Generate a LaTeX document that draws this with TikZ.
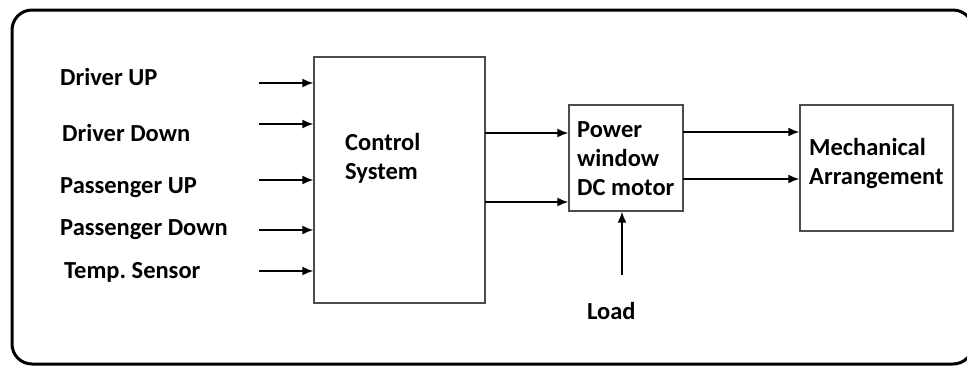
\documentclass[tikz,border=0pt]{standalone}
\usepackage{fontspec}
\setmainfont{Carlito}
\usetikzlibrary{arrows.meta}
\frenchspacing
\begin{document}
\begin{tikzpicture}[x=1pt,y=-1pt,
  blk/.style={draw=black!70,line width=1.3pt,rectangle,inner sep=0pt},
  lbl/.style={font=\bfseries\fontsize{24.5}{29}\selectfont,inner sep=0pt,anchor=west,align=left},
  sig/.style={line width=1.8pt,-{Latex[length=11pt,width=9pt]}}]
\useasboundingbox (0,0) rectangle (967,368);
\clip (0,0) rectangle (967,368);
\draw[line width=3pt,rounded corners=20pt] (12,10) rectangle (973,364);
% blocks
\node[blk,minimum width=171pt,minimum height=246pt] (ctrl) at (399.5,180) {};
\node[blk,minimum width=114pt,minimum height=106pt] (motor) at (626,158) {};
\node[blk,minimum width=153pt,minimum height=126pt] (mech) at (876.5,168) {};
% block texts
\node[lbl] (ctrltxt) at (345,158.5) {Control\\System};
\node[lbl] (motortxt) at (577,159) {Power\\window\\DC motor};
\node[lbl] (mechtxt) at (809,163) {Mechanical\\Arrangement};
% input labels
\node[lbl] (in1) at (60,77) {Driver UP};
\node[lbl] (in2) at (62,133) {Driver Down};
\node[lbl] (in3) at (60,188) {Passenger UP};
\node[lbl] (in4) at (60,230) {Passenger Down};
\node[lbl] (in5) at (64,272) {Temp. Sensor};
\node[lbl] (load) at (587,311) {Load};
% input arrows
\coordinate (s1) at (259,83);
\coordinate (s2) at (259,124);
\coordinate (s3) at (259,180);
\coordinate (s4) at (259,230);
\coordinate (s5) at (259,271);
\foreach \i in {1,...,5} \draw[sig] (s\i) -- (s\i -| ctrl.west);
% control to motor
\coordinate (c1) at (485,133);
\coordinate (c2) at (485,202);
\draw[sig] (c1) -- (c1 -| motor.west);
\draw[sig] (c2) -- (c2 -| motor.west);
% motor to mech
\coordinate (m1) at (683,132);
\coordinate (m2) at (683,179);
\draw[sig] (m1) -- (m1 -| mech.west);
\draw[sig] (m2) -- (m2 -| mech.west);
% load
\coordinate (l1) at (622,275);
\draw[sig] (l1) -- (l1 |- motor.south);
\end{tikzpicture}
\end{document}
